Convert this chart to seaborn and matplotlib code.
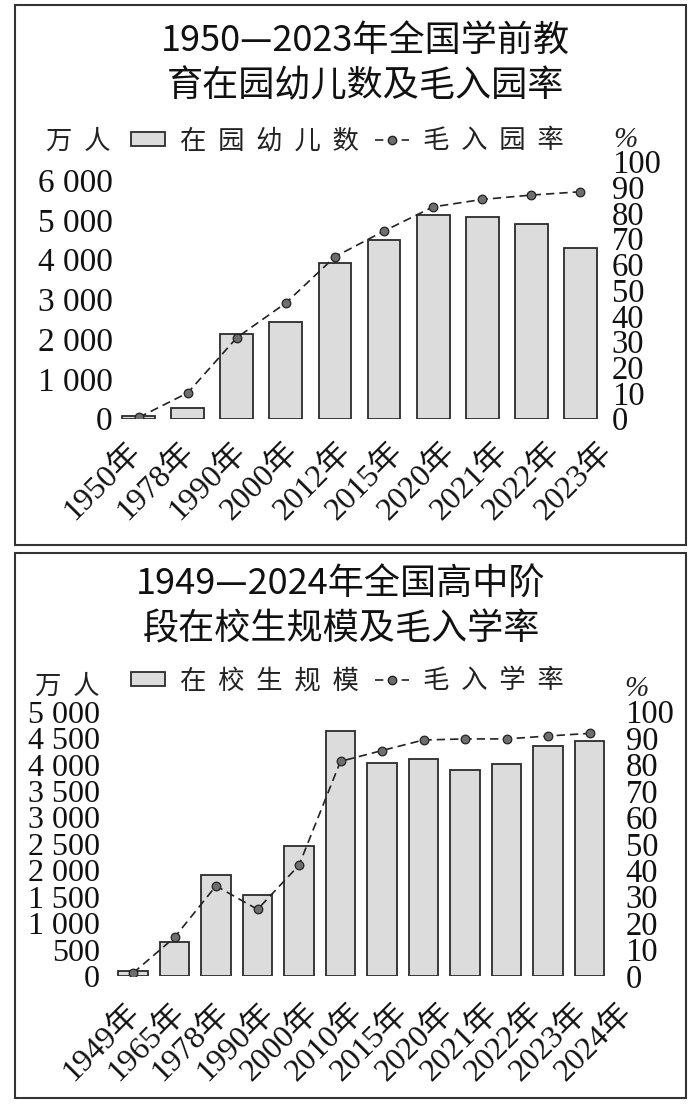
import numpy as np
import pandas as pd
import matplotlib
matplotlib.use("Agg")
import matplotlib.pyplot as plt
import matplotlib.transforms as mtransforms
import seaborn as sns
from matplotlib.patches import Rectangle, Patch
from matplotlib.lines import Line2D
from matplotlib.font_manager import FontProperties

# 学前教育
pre_years = ["1950年", "1978年", "1990年", "2000年", "2012年",
             "2015年", "2020年", "2021年", "2022年", "2023年"]
pre_kids = [60, 254, 2125, 2430, 3900, 4490, 5120, 5060, 4900, 4290]
pre_rate = [0.4, 10.0, 31.5, 45.0, 63.0, 73.0, 82.4, 85.3, 87.0, 88.3]

# 高中阶段
hs_years = ["1949年", "1965年", "1978年", "1990年", "2000年", "2010年",
            "2015年", "2020年", "2021年", "2022年", "2023年", "2024年"]
hs_students = [90, 650, 1910, 1534, 2459, 4641, 4025, 4107, 3890, 4013, 4358, 4440]
hs_rate = [1.1, 14.6, 34.1, 25.2, 41.9, 81.2, 85.3, 89.3, 89.7, 89.7, 90.8, 91.8]

pre_titles = ["1950—2023年全国学前教", "育在园幼儿数及毛入园率"]
hs_titles = ["1949—2024年全国高中阶", "段在校生规模及毛入学率"]
pre_legend = ["在  园  幼  儿  数", "毛  入  园  率"]
hs_legend = ["在  校  生  规  模", "毛  入  学  率"]

sns.set_theme(style="white")
CJK = ["Noto Sans CJK SC", "DejaVu Sans"]
SERIF = ["Liberation Serif", "Noto Sans CJK SC"]
plt.rcParams["font.family"] = CJK
plt.rcParams["lines.dashed_pattern"] = [5, 3]

BAR_FACE = "#dcdcdc"
EDGE = "#2b2b2b"
LINE = "#222222"
DOT = "#6e6e6e"

W, H = 700, 1108
fig = plt.figure(figsize=(7, 11.08), dpi=100)


def fx(px):
    return px / W


def fy(py):
    return 1 - py / H


def panel(left, right, top, base, years, counts, rates, ytop, yticks,
          bar_w, lpad, rpad, xpad, lsize, shift0, shift_step):
    ax = fig.add_axes([fx(left), fy(base), fx(right) - fx(left), fy(top) - fy(base)])
    df = pd.DataFrame({"year": years, "count": counts, "rate": rates})
    sns.barplot(data=df, x="year", y="count", ax=ax, color=BAR_FACE,
                saturation=1, edgecolor=EDGE, linewidth=1.3, width=bar_w)
    ax2 = ax.twinx()
    sns.pointplot(data=df, x="year", y="rate", ax=ax2, color=LINE,
                  linestyles="--", markers="o", markersize=6.2,
                  linewidth=1.2, markerfacecolor=DOT, markeredgecolor=LINE,
                  markeredgewidth=0.9)
    n = len(years)
    ax.set_xlim(-0.5, n - 0.5)
    ax.set_ylim(0, ytop)
    ax2.set_ylim(0, 100)
    ax.set_yticks(yticks)
    ax.set_yticklabels([f"{v:,}".replace(",", " ") for v in yticks],
                       fontfamily=SERIF, fontsize=lsize, color="#111")
    rt = list(range(0, 101, 10))
    ax2.set_yticks(rt)
    ax2.set_yticklabels([str(v) for v in rt], fontfamily=SERIF,
                        fontsize=23.5, color="#111")
    ax.tick_params(axis="y", length=0, pad=lpad)
    ax.tick_params(axis="x", length=0, pad=xpad)
    ax2.tick_params(axis="y", length=0, pad=rpad)
    ax.set_xticks(range(n))
    labels = ax.set_xticklabels(years, rotation=45, ha="right", va="center",
                                rotation_mode="anchor", fontfamily=SERIF,
                                fontsize=23, color="#111")
    # 年份标签的间距比柱子略宽
    for i, lab in enumerate(labels):
        dx = (shift0 + shift_step * i) / 100
        lab.set_transform(lab.get_transform() +
                          mtransforms.ScaledTranslation(dx, 0, fig.dpi_scale_trans))
    for a in (ax, ax2):
        a.set_xlabel("")
        a.set_ylabel("")
        for s in a.spines.values():
            s.set_visible(False)
        a.grid(False)
    return ax, ax2


def frame(y0, y1):
    fig.add_artist(Rectangle((fx(15), fy(y1)), fx(686) - fx(15), fy(y0) - fy(y1),
                             transform=fig.transFigure, fill=False,
                             linewidth=1.5, edgecolor="#333"))


def header(titles, cx, ty, legend_labels, ly, unit_x, unit_y, pct_x, pct_y):
    for t, y in zip(titles, ty):
        fig.text(fx(cx), fy(y), t, ha="center", va="center", fontsize=26,
                 color="#111", family=CJK)
    handles = [Patch(facecolor=BAR_FACE, edgecolor=EDGE, linewidth=1.3),
               Line2D([], [], color=LINE, linestyle="--", linewidth=1.2,
                      marker="o", markersize=6, markerfacecolor=DOT,
                      markeredgecolor=LINE)]
    fig.legend(handles, legend_labels, loc="center left",
               bbox_to_anchor=(fx(131), fy(ly)), ncol=2, frameon=False,
               prop=FontProperties(family=CJK, size=19),
               handlelength=1.3, handleheight=0.45, handletextpad=0.55,
               columnspacing=0.6, borderpad=0, borderaxespad=0,
               labelcolor="#222")
    fig.text(fx(unit_x), fy(unit_y), "万  人", ha="left", va="center",
             fontsize=19, color="#222", family=CJK)
    fig.text(fx(pct_x), fy(pct_y), "%", ha="left", va="center",
             fontsize=21, color="#222", family=SERIF, style="italic")


# 上图
frame(5, 545)
header(pre_titles, 365, [41, 86], pre_legend, 141, 46, 141, 613, 140)
panel(114.2, 604.8, 161.7, 418.5, pre_years, pre_kids, pre_rate,
      6000 / 0.9287, list(range(0, 6001, 1000)), 0.67, 1, 5, 21, 24, -2, 3.3)

# 下图
frame(553, 1098)
header(hs_titles, 341, [584, 629], hs_legend, 681, 35, 686, 624, 689)
panel(112.25, 610.25, 711.7, 976, hs_years, hs_students, hs_rate,
      5000, list(range(0, 5001, 500)), 0.72, 9, 11, 23, 23, 2, 3.3)

fig.savefig("out.png", dpi=100, facecolor="white")
